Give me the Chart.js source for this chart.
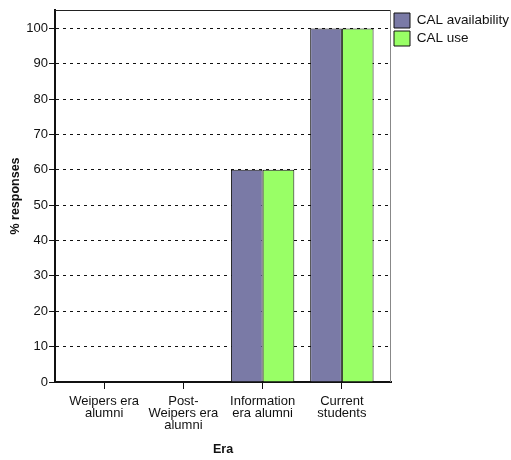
<!DOCTYPE html>
<html lang="en">
<head>
    <meta charset="UTF-8">
    <title>CAL availability and use by era</title>
    <script src="https://cdnjs.cloudflare.com/ajax/libs/Chart.js/4.4.1/chart.umd.min.js"></script>
    <style>
        html, body { margin: 0; padding: 0; background: #fff; }
        #wrap { width: 511px; height: 460px; }
    </style>
</head>
<body>
    <div id="wrap"><canvas id="eraChart"></canvas></div>

    <script>
        // data
        const eras = [
            ['Weipers era', 'alumni'],
            ['Post-', 'Weipers era', 'alumni'],
            ['Information', 'era alumni'],
            ['Current', 'students']
        ];
        const calAvailability = [0, 0, 60, 100];
        const calUse = [0, 0, 60, 100];
        const yTicks = [0, 10, 20, 30, 40, 50, 60, 70, 80, 90, 100];

        const FONT = "'Liberation Sans', Arial, Helvetica, sans-serif";

        // top + right frame lines of the plot box
        const framePlugin = {
            id: 'frame',
            afterDraw(chart) {
                const { ctx, chartArea: a } = chart;
                ctx.save();
                ctx.lineWidth = 1;
                ctx.strokeStyle = '#222';
                ctx.beginPath();
                ctx.moveTo(a.left, a.top + 0.5);
                ctx.lineTo(a.right, a.top + 0.5);
                ctx.stroke();
                ctx.strokeStyle = '#888';
                ctx.beginPath();
                ctx.moveTo(a.right - 0.5, a.top);
                ctx.lineTo(a.right - 0.5, a.bottom);
                ctx.stroke();
                ctx.restore();
            }
        };

        new Chart(document.getElementById('eraChart'), {
            type: 'bar',
            data: {
                datasets: [{
                    label: 'CAL availability',
                    data: calAvailability.map((v, i) => ({ x: i, y: v })),
                    backgroundColor: '#7a7aa6',
                    borderColor: '#111',
                    borderWidth: 1
                }, {
                    label: 'CAL use',
                    data: calUse.map((v, i) => ({ x: i, y: v })),
                    backgroundColor: '#99ff66',
                    borderColor: '#111',
                    borderWidth: 1
                }]
            },
            options: {
                responsive: true,
                maintainAspectRatio: false,
                animation: false,
                layout: { padding: { top: 10, right: 0, bottom: 0, left: 0 } },
                datasets: { bar: { categoryPercentage: 0.8, barPercentage: 1.0 } },
                plugins: {
                    tooltip: { enabled: false },
                    legend: {
                        position: 'right',
                        align: 'start',
                        maxWidth: 120,
                        labels: {
                            boxWidth: 16,
                            boxHeight: 15,
                            padding: 3,
                            color: '#111',
                            font: { family: FONT, size: 13.5 }
                        }
                    }
                },
                scales: {
                    x: {
                        type: 'linear',
                        min: -0.62,
                        max: 3.62,
                        offset: false,
                        afterBuildTicks: s => { s.ticks = eras.map((_, i) => ({ value: i })); },
                        afterFit: s => { s.height = 78; },
                        grid: {
                            offset: false,
                            drawOnChartArea: false,
                            drawTicks: true,
                            tickLength: 7,
                            tickColor: '#111'
                        },
                        border: { color: '#111', width: 2 },
                        ticks: {
                            padding: 6,
                            maxRotation: 0,
                            autoSkip: false,
                            color: '#111',
                            font: { family: FONT, size: 13, lineHeight: 0.95 },
                            callback: v => eras[v] || ''
                        },
                        title: {
                            display: true,
                            text: 'Era',
                            color: '#111',
                            padding: { top: 2, bottom: 3 },
                            font: { family: FONT, size: 12.5, weight: 'bold' }
                        }
                    },
                    y: {
                        min: 0,
                        max: 105.2,
                        afterBuildTicks: s => { s.ticks = yTicks.map(v => ({ value: v })); },
                        afterFit: s => { s.width = 55; },
                        grid: {
                            color: '#111',
                            lineWidth: 1,
                            tickLength: 6,
                            tickColor: '#111',
                            tickBorderDash: []
                        },
                        border: { color: '#111', width: 2, dash: [3, 4] },
                        ticks: {
                            padding: 1,
                            color: '#111',
                            font: { family: FONT, size: 13 }
                        },
                        title: {
                            display: true,
                            text: '% responses',
                            color: '#111',
                            padding: { top: 8, bottom: 0 },
                            font: { family: FONT, size: 12.5, weight: 'bold' }
                        }
                    }
                }
            },
            plugins: [framePlugin]
        });
    </script>
</body>
</html>
